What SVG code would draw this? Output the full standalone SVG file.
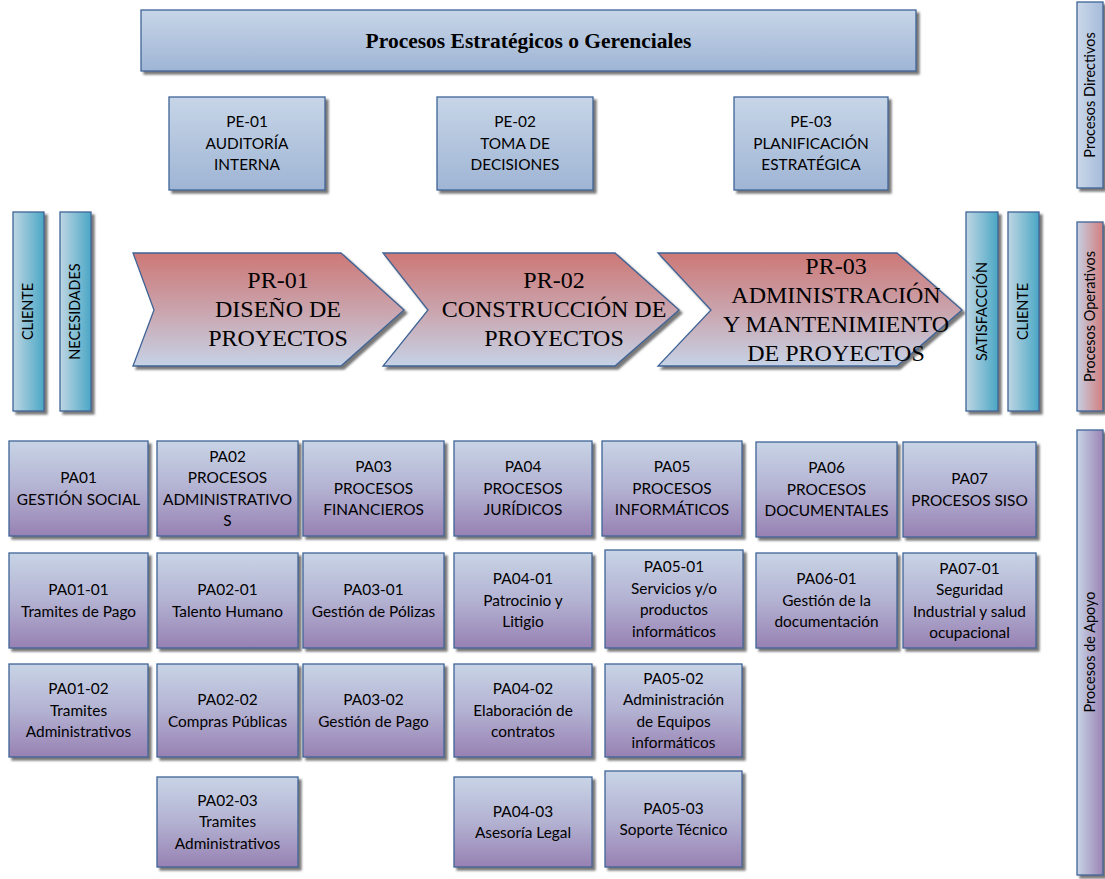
<svg xmlns="http://www.w3.org/2000/svg" width="1105" height="879" viewBox="0 0 1105 879">
  <defs>
    <linearGradient id="gBlue" x1="0" y1="0" x2="0" y2="1">
      <stop offset="0" stop-color="#c7d5e7"/>
      <stop offset="1" stop-color="#9fb5d5"/>
    </linearGradient>
    <linearGradient id="gPurple" x1="0" y1="0" x2="0" y2="1">
      <stop offset="0" stop-color="#c8d4e6"/>
      <stop offset="0.5" stop-color="#b3b2d2"/>
      <stop offset="1" stop-color="#9781b3"/>
    </linearGradient>
    <linearGradient id="gArrow" x1="0" y1="0" x2="0" y2="1">
      <stop offset="0" stop-color="#cd7876"/>
      <stop offset="0.5" stop-color="#caa3ac"/>
      <stop offset="1" stop-color="#c6d2e6"/>
    </linearGradient>
    <linearGradient id="gTeal" x1="0" y1="0" x2="1" y2="0">
      <stop offset="0" stop-color="#bfd6e3"/>
      <stop offset="1" stop-color="#4aa7c5"/>
    </linearGradient>
    <linearGradient id="gSideBlue" x1="0" y1="0" x2="1" y2="0">
      <stop offset="0" stop-color="#cbd8e9"/>
      <stop offset="1" stop-color="#a5bbd9"/>
    </linearGradient>
    <linearGradient id="gSideRed" x1="0" y1="0" x2="1" y2="0">
      <stop offset="0" stop-color="#c6cfe3"/>
      <stop offset="1" stop-color="#d27e7d"/>
    </linearGradient>
    <linearGradient id="gSidePurple" x1="0" y1="0" x2="1" y2="0">
      <stop offset="0" stop-color="#c8d4e6"/>
      <stop offset="1" stop-color="#9a84b5"/>
    </linearGradient>
    <filter id="shadow" x="-10%" y="-10%" width="130%" height="130%">
      <feDropShadow dx="3" dy="3" stdDeviation="1" flood-color="#6a6a6a" flood-opacity="0.9"/>
    </filter>
  </defs>
  <style>
    .box { stroke: #3f6497; stroke-width: 1.3; filter: url(#shadow); }
    .blue { fill: url(#gBlue); }
    .purple { fill: url(#gPurple); }
    .arrow { fill: url(#gArrow); }
    .teal { fill: url(#gTeal); }
    .sans { font-family: Lato, "Open Sans", "Liberation Sans", sans-serif; font-size: 15.4px; fill: #000; text-anchor: middle; }
    .vert { font-family: Lato, "Open Sans", "Liberation Sans", sans-serif; font-size: 14.4px; fill: #000; text-anchor: middle; }
    .side { font-family: Lato, "Open Sans", "Liberation Sans", sans-serif; font-size: 14.5px; fill: #000; text-anchor: middle; }
    .serif { font-family: "Liberation Serif", "Times New Roman", serif; font-size: 24px; fill: #000; text-anchor: middle; }
    .title { font-family: "Liberation Serif", "Times New Roman", serif; font-size: 21.5px; font-weight: bold; fill: #000; text-anchor: middle; }
  </style>

  <rect width="1105" height="879" fill="#ffffff"/>

  <!-- Strategic layer -->
  <g id="banner">
    <rect class="box blue" x="141" y="10" width="775" height="61"/>
    <text class="title" x="528.5" y="48">Procesos Estratégicos o Gerenciales</text>
  </g>
  <g id="PE-01">
    <rect class="box blue" x="169" y="97" width="156" height="93"/>
    <text class="sans" x="247" y="127.4">PE-01</text>
    <text class="sans" x="247" y="148.9">AUDITORÍA</text>
    <text class="sans" x="247" y="170.4">INTERNA</text>
  </g>
  <g id="PE-02">
    <rect class="box blue" x="437" y="97" width="156" height="93"/>
    <text class="sans" x="515" y="127.4">PE-02</text>
    <text class="sans" x="515" y="148.9">TOMA DE</text>
    <text class="sans" x="515" y="170.4">DECISIONES</text>
  </g>
  <g id="PE-03">
    <rect class="box blue" x="734" y="97" width="154" height="93"/>
    <text class="sans" x="811" y="127.4">PE-03</text>
    <text class="sans" x="811" y="148.9">PLANIFICACIÓN</text>
    <text class="sans" x="811" y="170.4">ESTRATÉGICA</text>
  </g>

  <!-- Operational chain -->
  <g id="cliente-in">
    <rect class="box teal" x="13" y="212" width="31" height="199"/>
    <text class="vert" transform="translate(33.2,311.5) rotate(-90)">CLIENTE</text>
  </g>
  <g id="necesidades">
    <rect class="box teal" x="60" y="212" width="31" height="199"/>
    <text class="vert" transform="translate(80.2,311.5) rotate(-90)">NECESIDADES</text>
  </g>
  <g id="PR-01">
    <polygon class="box arrow" points="133,253 341,253 404,310 341,366 133,366 154,310"/>
    <text class="serif" x="278" y="288">PR-01</text>
    <text class="serif" x="278" y="317">DISEÑO DE</text>
    <text class="serif" x="278" y="346">PROYECTOS</text>
  </g>
  <g id="PR-02">
    <polygon class="box arrow" points="383,253 615,253 679,310 615,366 383,366 428,310"/>
    <text class="serif" x="554" y="288">PR-02</text>
    <text class="serif" x="554" y="317">CONSTRUCCIÓN DE</text>
    <text class="serif" x="554" y="346">PROYECTOS</text>
  </g>
  <g id="PR-03">
    <polygon class="box arrow" points="658,253 897,253 962,310 897,366 658,366 711,310"/>
    <text class="serif" x="836" y="274">PR-03</text>
    <text class="serif" x="836" y="303">ADMINISTRACIÓN</text>
    <text class="serif" x="836" y="332">Y MANTENIMIENTO</text>
    <text class="serif" x="836" y="361">DE PROYECTOS</text>
  </g>
  <g id="satisfaccion">
    <rect class="box teal" x="966" y="212" width="32" height="199"/>
    <text class="vert" transform="translate(987.2,311.5) rotate(-90)">SATISFACCIÓN</text>
  </g>
  <g id="cliente-out">
    <rect class="box teal" x="1008" y="212" width="31" height="199"/>
    <text class="vert" transform="translate(1028.2,311.5) rotate(-90)">CLIENTE</text>
  </g>

  <!-- Layer labels on the right edge -->
  <g id="procesos-directivos">
    <rect class="box" fill="url(#gSideBlue)" x="1077" y="2" width="26" height="186"/>
    <text class="side" transform="translate(1095,95) rotate(-90)">Procesos Directivos</text>
  </g>
  <g id="procesos-operativos">
    <rect class="box" fill="url(#gSideRed)" x="1077" y="222" width="26" height="189"/>
    <text class="side" transform="translate(1095,316.5) rotate(-90)">Procesos Operativos</text>
  </g>
  <g id="procesos-apoyo">
    <rect class="box" fill="url(#gSidePurple)" x="1077" y="430" width="26" height="445"/>
    <text class="side" transform="translate(1095,652) rotate(-90)">Procesos de Apoyo</text>
  </g>

  <!-- Support processes, row 1 -->
  <g id="PA01">
    <rect class="box purple" x="9" y="441" width="139" height="95"/>
    <text class="sans" x="78.5" y="483.2">PA01</text>
    <text class="sans" x="78.5" y="504.7">GESTIÓN SOCIAL</text>
  </g>
  <g id="PA02">
    <rect class="box purple" x="157" y="441" width="141" height="95"/>
    <text class="sans" x="227.5" y="461.6">PA02</text>
    <text class="sans" x="227.5" y="483.2">PROCESOS</text>
    <text class="sans" x="227.5" y="504.7">ADMINISTRATIVO</text>
    <text class="sans" x="227.5" y="526.2">S</text>
  </g>
  <g id="PA03">
    <rect class="box purple" x="303" y="441" width="141" height="95"/>
    <text class="sans" x="373.5" y="472.4">PA03</text>
    <text class="sans" x="373.5" y="493.9">PROCESOS</text>
    <text class="sans" x="373.5" y="515.4">FINANCIEROS</text>
  </g>
  <g id="PA04">
    <rect class="box purple" x="454" y="441" width="138" height="95"/>
    <text class="sans" x="523" y="472.4">PA04</text>
    <text class="sans" x="523" y="493.9">PROCESOS</text>
    <text class="sans" x="523" y="515.4">JURÍDICOS</text>
  </g>
  <g id="PA05">
    <rect class="box purple" x="602" y="441" width="140" height="95"/>
    <text class="sans" x="672" y="472.4">PA05</text>
    <text class="sans" x="672" y="493.9">PROCESOS</text>
    <text class="sans" x="672" y="515.4">INFORMÁTICOS</text>
  </g>
  <g id="PA06">
    <rect class="box purple" x="756" y="442" width="141" height="95"/>
    <text class="sans" x="826.5" y="473.4">PA06</text>
    <text class="sans" x="826.5" y="494.9">PROCESOS</text>
    <text class="sans" x="826.5" y="516.4">DOCUMENTALES</text>
  </g>
  <g id="PA07">
    <rect class="box purple" x="903" y="442" width="133" height="95"/>
    <text class="sans" x="969.5" y="484.2">PA07</text>
    <text class="sans" x="969.5" y="505.7">PROCESOS SISO</text>
  </g>

  <!-- Support processes, row 2 -->
  <g id="PA01-01">
    <rect class="box purple" x="9" y="553" width="139" height="95"/>
    <text class="sans" x="78.5" y="595.2">PA01-01</text>
    <text class="sans" x="78.5" y="616.7">Tramites de Pago</text>
  </g>
  <g id="PA02-01">
    <rect class="box purple" x="157" y="553" width="141" height="95"/>
    <text class="sans" x="227.5" y="595.2">PA02-01</text>
    <text class="sans" x="227.5" y="616.7">Talento Humano</text>
  </g>
  <g id="PA03-01">
    <rect class="box purple" x="303" y="553" width="141" height="95"/>
    <text class="sans" x="373.5" y="595.2">PA03-01</text>
    <text class="sans" x="373.5" y="616.7">Gestión de Pólizas</text>
  </g>
  <g id="PA04-01">
    <rect class="box purple" x="454" y="553" width="138" height="95"/>
    <text class="sans" x="523" y="584.4">PA04-01</text>
    <text class="sans" x="523" y="605.9">Patrocinio y</text>
    <text class="sans" x="523" y="627.4">Litigio</text>
  </g>
  <g id="PA05-01">
    <rect class="box purple" x="605" y="550" width="138" height="98"/>
    <text class="sans" x="674" y="572.1">PA05-01</text>
    <text class="sans" x="674" y="593.6">Servicios y/o</text>
    <text class="sans" x="674" y="615.1">productos</text>
    <text class="sans" x="674" y="636.6">informáticos</text>
  </g>
  <g id="PA06-01">
    <rect class="box purple" x="756" y="553" width="141" height="95"/>
    <text class="sans" x="826.5" y="584.4">PA06-01</text>
    <text class="sans" x="826.5" y="605.9">Gestión de la</text>
    <text class="sans" x="826.5" y="627.4">documentación</text>
  </g>
  <g id="PA07-01">
    <rect class="box purple" x="903" y="553" width="133" height="95"/>
    <text class="sans" x="969.5" y="573.6">PA07-01</text>
    <text class="sans" x="969.5" y="595.1">Seguridad</text>
    <text class="sans" x="969.5" y="616.6">Industrial y salud</text>
    <text class="sans" x="969.5" y="638.1">ocupacional</text>
  </g>

  <!-- Support processes, row 3 -->
  <g id="PA01-02">
    <rect class="box purple" x="9" y="664" width="139" height="93"/>
    <text class="sans" x="78.5" y="694.4">PA01-02</text>
    <text class="sans" x="78.5" y="715.9">Tramites</text>
    <text class="sans" x="78.5" y="737.4">Administrativos</text>
  </g>
  <g id="PA02-02">
    <rect class="box purple" x="157" y="664" width="141" height="93"/>
    <text class="sans" x="227.5" y="705.2">PA02-02</text>
    <text class="sans" x="227.5" y="726.7">Compras Públicas</text>
  </g>
  <g id="PA03-02">
    <rect class="box purple" x="303" y="664" width="141" height="93"/>
    <text class="sans" x="373.5" y="705.2">PA03-02</text>
    <text class="sans" x="373.5" y="726.7">Gestión de Pago</text>
  </g>
  <g id="PA04-02">
    <rect class="box purple" x="454" y="664" width="138" height="93"/>
    <text class="sans" x="523" y="694.4">PA04-02</text>
    <text class="sans" x="523" y="715.9">Elaboración de</text>
    <text class="sans" x="523" y="737.4">contratos</text>
  </g>
  <g id="PA05-02">
    <rect class="box purple" x="605" y="664" width="137" height="93"/>
    <text class="sans" x="673.5" y="683.6">PA05-02</text>
    <text class="sans" x="673.5" y="705.1">Administración</text>
    <text class="sans" x="673.5" y="726.6">de Equipos</text>
    <text class="sans" x="673.5" y="748.1">informáticos</text>
  </g>

  <!-- Support processes, row 4 -->
  <g id="PA02-03">
    <rect class="box purple" x="157" y="777" width="141" height="90"/>
    <text class="sans" x="227.5" y="805.9">PA02-03</text>
    <text class="sans" x="227.5" y="827.4">Tramites</text>
    <text class="sans" x="227.5" y="848.9">Administrativos</text>
  </g>
  <g id="PA04-03">
    <rect class="box purple" x="454" y="777" width="138" height="90"/>
    <text class="sans" x="523" y="816.7">PA04-03</text>
    <text class="sans" x="523" y="838.2">Asesoría Legal</text>
  </g>
  <g id="PA05-03">
    <rect class="box purple" x="605" y="771" width="137" height="96"/>
    <text class="sans" x="673.5" y="813.7">PA05-03</text>
    <text class="sans" x="673.5" y="835.2">Soporte Técnico</text>
  </g>

  <!-- The layers are not linked by explicit lines -->
  <g id="connectors"/>
</svg>
